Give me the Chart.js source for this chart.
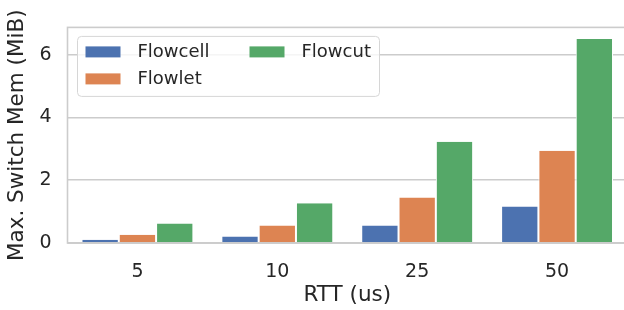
<!DOCTYPE html>
<html>
<head>
<meta charset="utf-8">
<script src="https://cdn.jsdelivr.net/npm/chart.js@4"></script>
<style>
  html, body { margin: 0; padding: 0; background: #fff; overflow: hidden; }
  #wrap { width: 628px; height: 310px; }
</style>
</head>
<body>
<div id="wrap"><canvas id="c" width="628" height="310"></canvas></div>
<script>
const categories = ['5', '10', '25', '50'];
const seriesNames = ['Flowcell', 'Flowlet', 'Flowcut'];
const flowcell = [0.10, 0.21, 0.56, 1.16];
const flowlet = [0.26, 0.56, 1.45, 2.94];
const flowcut = [0.62, 1.27, 3.23, 6.50];
const yTicks = [0, 2, 4, 6];
const yMax = 6.87;
const colors = ['#4c72b0', '#dd8452', '#55a868'];
const xTitle = 'RTT (us)';
const yTitle = 'Max. Switch Mem (MiB)';

const TEXT = '#262626';
const GRID = '#cccccc';
const FONT = "'DejaVu Sans', sans-serif";

const frame = {
  id: 'frame',
  beforeDatasetsDraw(chart) {
    const a = chart.chartArea, ctx = chart.ctx;
    ctx.save();
    ctx.strokeStyle = GRID;
    ctx.lineWidth = 1.6;
    ctx.strokeRect(a.left, a.top, a.right - a.left, a.bottom - a.top);
    ctx.restore();
  },
  afterDatasetsDraw(chart) {
    const a = chart.chartArea, ctx = chart.ctx;
    ctx.save();
    ctx.strokeStyle = GRID;
    ctx.lineWidth = 1.6;
    ctx.beginPath();
    ctx.moveTo(a.left, a.bottom);
    ctx.lineTo(a.right, a.bottom);
    ctx.stroke();
    ctx.restore();
  }
};

function roundRect(ctx, x, y, w, h, r) {
  ctx.beginPath();
  ctx.moveTo(x + r, y);
  ctx.lineTo(x + w - r, y);
  ctx.arcTo(x + w, y, x + w, y + r, r);
  ctx.lineTo(x + w, y + h - r);
  ctx.arcTo(x + w, y + h, x + w - r, y + h, r);
  ctx.lineTo(x + r, y + h);
  ctx.arcTo(x, y + h, x, y + h - r, r);
  ctx.lineTo(x, y + r);
  ctx.arcTo(x, y, x + r, y, r);
  ctx.closePath();
}

const legendPlugin = {
  id: 'customLegend',
  afterDraw(chart) {
    const ctx = chart.ctx;
    const a = chart.chartArea;
    const x0 = a.left + 10, y0 = a.top + 9, w = 302, h = 60;
    ctx.save();
    roundRect(ctx, x0, y0, w, h, 4);
    ctx.fillStyle = 'rgba(255,255,255,0.8)';
    ctx.fill();
    ctx.strokeStyle = '#d6d6d6';
    ctx.lineWidth = 1;
    ctx.stroke();
    ctx.font = '18px ' + FONT;
    ctx.textBaseline = 'middle';
    ctx.fillStyle = TEXT;
    const pos = [[0, 0], [0, 1], [1, 0]];
    chart.data.datasets.forEach((ds, i) => {
      const col = pos[i][0], row = pos[i][1];
      const px = x0 + 8 + col * 164;
      const py = y0 + 10 + row * 27;
      ctx.fillStyle = ds.backgroundColor;
      ctx.fillRect(px, py, 35, 11);
      ctx.fillStyle = TEXT;
      ctx.fillText(ds.label, px + 52, py + 6);
    });
    ctx.restore();
  }
};

new Chart(document.getElementById('c'), {
  type: 'bar',
  data: {
    labels: categories,
    datasets: [
      { label: seriesNames[0], data: flowcell, backgroundColor: colors[0] },
      { label: seriesNames[1], data: flowlet, backgroundColor: colors[1] },
      { label: seriesNames[2], data: flowcut, backgroundColor: colors[2] }
    ]
  },
  options: {
    responsive: false,
    animation: false,
    devicePixelRatio: 1,
    layout: { padding: { top: 26, right: 1, left: 0, bottom: 0 } },
    datasets: {
      bar: {
        categoryPercentage: 0.8,
        barPercentage: 1.0,
        borderColor: '#ffffff',
        borderWidth: { left: 1, right: 1, top: 0, bottom: 0 }
      }
    },
    plugins: {
      legend: { display: false },
      tooltip: { enabled: false }
    },
    scales: {
      x: {
        grid: { display: false, drawTicks: false },
        border: { display: false },
        ticks: { color: TEXT, font: { family: FONT, size: 19 }, padding: 18 },
        title: { display: true, text: xTitle, color: TEXT, font: { family: FONT, size: 21.5 }, padding: { top: 0, bottom: 2 } },
        afterFit(scale) { scale.height = 67; }
      },
      y: {
        min: 0,
        max: yMax,
        afterBuildTicks(scale) { scale.ticks = yTicks.map(v => ({ value: v })); },
        grid: { color: GRID, lineWidth: 1.6, drawTicks: false },
        border: { display: false },
        ticks: { color: TEXT, font: { family: FONT, size: 19 }, padding: 16 },
        title: { display: true, text: yTitle, color: TEXT, font: { family: FONT, size: 21.5 }, padding: { top: 5, bottom: 0 } },
        afterFit(scale) { scale.width = 67.5; }
      }
    }
  },
  plugins: [frame, legendPlugin]
});
</script>
</body>
</html>
